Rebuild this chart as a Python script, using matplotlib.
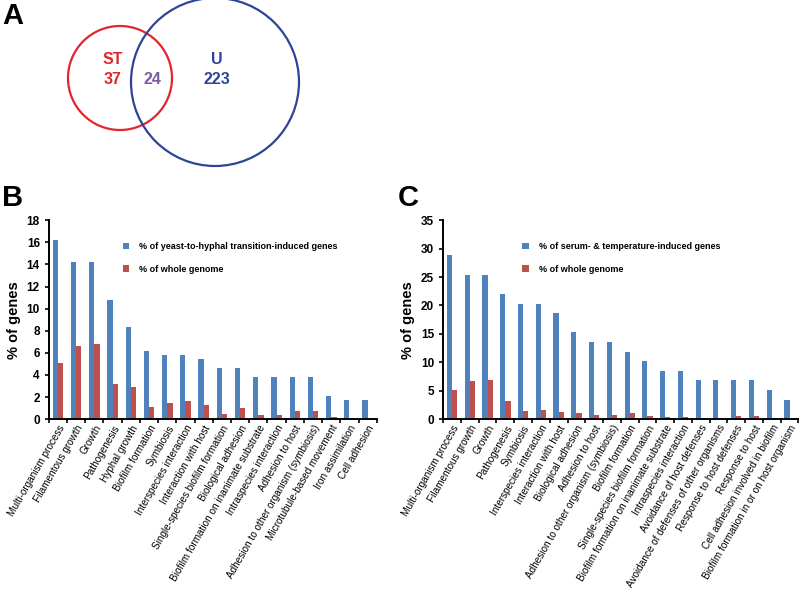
import matplotlib.pyplot as plt
import numpy as np
from matplotlib.patches import Circle

plt.rcParams['font.family'] = ['Liberation Sans', 'DejaVu Sans']

# Venn counts
st_only = 37
shared = 24
u_only = 223

# panel B
labels_b = ['Multi-organism process', 'Filamentous growth', 'Growth', 'Pathogenesis',
            'Hyphal growth', 'Biofilm formation', 'Symbiosis', 'Interspecies interaction',
            'Interaction with host', 'Single-species biofilm formation', 'Biological adhesion',
            'Biofilm formation on inanimate substrate', 'Intraspecies interaction',
            'Adhesion to host', 'Adhesion to other organism (symbiosis)',
            'Microtubule-based movement', 'Iron assimilation', 'Cell adhesion']
induced_b = [16.2, 14.2, 14.2, 10.8, 8.3, 6.2, 5.8, 5.8, 5.4, 4.6, 4.6, 3.8, 3.8, 3.8, 3.8, 2.1, 1.7, 1.7]
genome_b = [5.1, 6.6, 6.8, 3.2, 2.9, 1.1, 1.5, 1.6, 1.3, 0.5, 1.0, 0.4, 0.4, 0.7, 0.7, 0.2, 0.05, 0.05]

# panel C
labels_c = ['Multi-organism process', 'Filamentous growth', 'Growth', 'Pathogenesis',
            'Symbiosis', 'Interspecies interaction', 'Interaction with host',
            'Biological adhesion', 'Adhesion to host', 'Adhesion to other organism (symbiosis)',
            'Biofilm formation', 'Single-species biofilm formation',
            'Biofilm formation on inanimate substrate', 'Intraspecies interaction',
            'Avoidance of host defenses', 'Avoidance of defenses of other organisms',
            'Response to host defenses', 'Response to host',
            'Cell adhesion involved in biofilm', 'Biofilm formation in or on host organism']
induced_c = [28.8, 25.4, 25.4, 22.0, 20.3, 20.3, 18.6, 15.3, 13.6, 13.6, 11.9, 10.2, 8.5, 8.5,
             6.8, 6.8, 6.8, 6.8, 5.1, 3.4]
genome_c = [5.2, 6.7, 6.8, 3.2, 1.5, 1.6, 1.3, 1.0, 0.7, 0.7, 1.1, 0.5, 0.4, 0.4,
            0.15, 0.15, 0.55, 0.55, 0.05, 0.05]

BLUE = '#4F81BD'
RED = '#C0504D'

fig = plt.figure(figsize=(8, 5.92), dpi=100)

# --- Venn (A), drawn in pixel coords
axv = fig.add_axes([0, 0, 1, 1])
axv.set_xlim(0, 800)
axv.set_ylim(592, 0)
axv.axis('off')
axv.add_patch(Circle((120, 78), 52, fill=False, ec='#E0262B', lw=1.6))
axv.add_patch(Circle((215, 82), 84, fill=False, ec='#2E4496', lw=1.6))
kw = dict(fontsize=11.5, fontweight='bold', ha='center', va='center')
axv.text(113, 60, 'ST', color='#E0262B', **kw)
axv.text(113, 80, str(st_only), color='#E0262B', **kw)
axv.text(152, 80, str(shared), color='#7E5A9E', **kw)
axv.text(217, 60, 'U', color='#2E4496', **kw)
axv.text(217, 80, str(u_only), color='#2E4496', **kw)
axv.text(2, 16, 'A', fontsize=21, fontweight='bold', ha='left', va='center')
axv.text(2, 198, 'B', fontsize=21, fontweight='bold', ha='left', va='center')
axv.text(398, 198, 'C', fontsize=21, fontweight='bold', ha='left', va='center')


def bars(ax, labels, induced, genome, ymax, step, leg):
    x = np.arange(len(labels))
    w = 0.29
    ax.bar(x - w / 2, induced, w, color=BLUE, label=leg)
    ax.bar(x + w / 2, genome, w, color=RED, label='% of whole genome')
    ax.set_xlim(-0.5, len(labels) - 0.5)
    ax.set_ylim(0, ymax)
    ax.set_yticks(np.arange(0, ymax + 0.1, step))
    ax.set_xticks(np.arange(-0.5, len(labels), 1.0), minor=False)
    ax.set_xticklabels([])
    ax.set_xticks(x, minor=True)
    ax.set_xticklabels(labels, minor=True, rotation=60, ha='right', rotation_mode='anchor', fontsize=7.2)
    ax.tick_params(axis='x', which='minor', length=0, pad=3)
    ax.tick_params(axis='x', which='major', length=3, width=1.2, direction='out')
    ax.tick_params(axis='y', length=3, width=1.2, direction='out', labelsize=8.5)
    for t in ax.get_yticklabels():
        t.set_fontweight('bold')
    for s in ['top', 'right']:
        ax.spines[s].set_visible(False)
    for s in ['left', 'bottom']:
        ax.spines[s].set_linewidth(1.4)
    ax.set_ylabel('% of genes', fontsize=10.5, fontweight='bold', labelpad=4)
    ax.legend(loc='upper left', bbox_to_anchor=(0.2, 0.93), frameon=False,
              prop={'size': 6.5, 'weight': 'bold'}, handlelength=0.7, handleheight=0.7,
              labelspacing=1.5, handletextpad=1.1)


axb = fig.add_axes([0.061, 0.292, 0.410, 0.336])
bars(axb, labels_b, induced_b, genome_b, 18, 2, '% of yeast-to-hyphal transition-induced genes')

axc = fig.add_axes([0.554, 0.292, 0.444, 0.336])
bars(axc, labels_c, induced_c, genome_c, 35, 5, '% of serum- & temperature-induced genes')

fig.savefig('out.png', dpi=100)
